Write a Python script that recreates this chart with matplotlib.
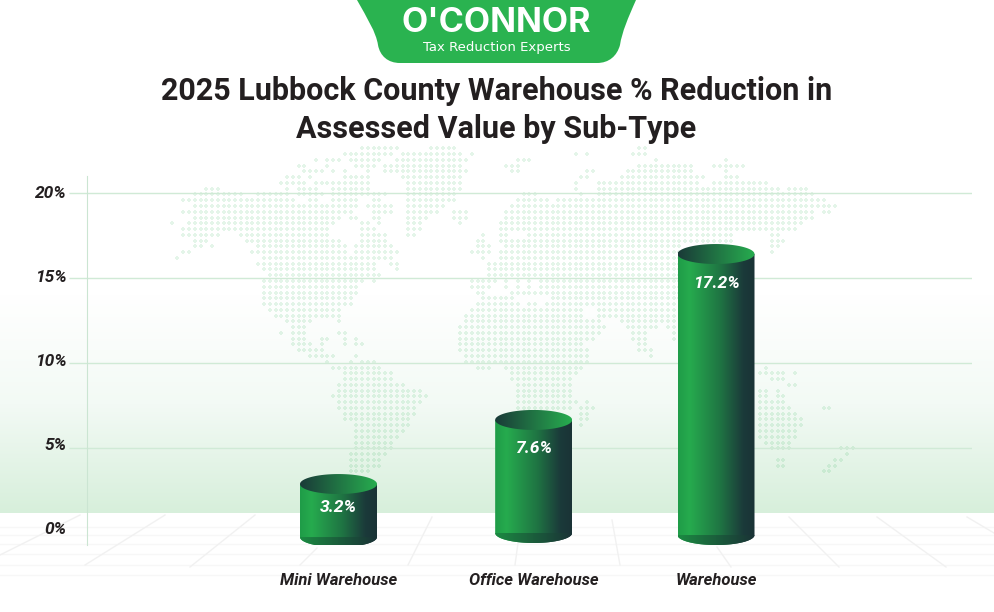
# -*- coding: utf-8 -*-
#%% Imports
import numpy as np
import matplotlib
matplotlib.use("Agg")
import matplotlib.pyplot as plt
from matplotlib.colors import LinearSegmentedColormap
from matplotlib.patches import PathPatch
from matplotlib.path import Path
from matplotlib.transforms import ScaledTranslation

#%% Data
categories = ["Mini Warehouse", "Office Warehouse", "Warehouse"]
reductions = [3.2, 7.6, 17.2]
# the cylinders in the picture are not to scale, these are read off its axis
drawn_tops = [2.88, 6.65, 16.41]
drawn_bases = [-0.24, 0.0, -0.12]
y_ticks = [0, 5, 10, 15, 20]
y_tick_labels = ["0%", "5%", "10%", "15%", "20%"]
title = "2025 Lubbock County Warehouse % Reduction in\nAssessed Value by Sub-Type"

# dotted world map behind the chart: row number -> dot runs in pixels
map_runs = {
    0: [(362, 397), (431, 454), (637, 643)],
    1: [(344, 391), (402, 460), (471, 471), (574, 574), (586, 586), (632, 643)],
    2: [(316, 316), (327, 338), (350, 379), (397, 466), (516, 528), (655, 655), (724, 724)],
    3: [(298, 304), (327, 327), (356, 373), (385, 460), (505, 517), (637, 690), (713, 742)],
    4: [(304, 321), (333, 333), (344, 344), (368, 368), (385, 466), (511, 517), (586, 592), (626, 690), (724, 724)],
    5: [(287, 298), (310, 310), (344, 368), (402, 460), (580, 586), (620, 702), (724, 736)],
    6: [(281, 304), (316, 338), (344, 368), (408, 460), (574, 574), (597, 695), (713, 765)],
    7: [(206, 217), (287, 287), (298, 316), (333, 368), (408, 460), (574, 574), (597, 777), (788, 806)],
    8: [(194, 242), (258, 287), (298, 321), (333, 385), (408, 454), (522, 533), (580, 580), (597, 812)],
    9: [(183, 188), (194, 293), (310, 316), (333, 356), (373, 379), (408, 454), (516, 545), (557, 823)],
    10: [(194, 356), (368, 391), (408, 442), (510, 833)],
    11: [(183, 350), (373, 391), (408, 437), (454, 466), (505, 812), (823, 828)],
    12: [(194, 338), (350, 356), (373, 379), (408, 425), (454, 466), (505, 812)],
    13: [(172, 172), (188, 333), (362, 368), (379, 379), (408, 419), (460, 460), (500, 800)],
    14: [(183, 327), (362, 373), (408, 419), (500, 517), (522, 793)],
    15: [(183, 217), (240, 327), (362, 385), (408, 414), (483, 483), (500, 505), (528, 730), (770, 777)],
    16: [(194, 206), (246, 338), (362, 385), (477, 483), (500, 730), (770, 783)],
    17: [(194, 200), (212, 212), (258, 344), (356, 391), (477, 488), (505, 677), (770, 777)],
    18: [(183, 188), (252, 344), (356, 397), (471, 488), (500, 677), (770, 770)],
    19: [(177, 177), (263, 391), (483, 483), (500, 677)],
    20: [(258, 373), (391, 397), (488, 677)],
    21: [(263, 373), (397, 397), (488, 677)],
    22: [(269, 379), (488, 677)],
    23: [(263, 362), (373, 373), (471, 494), (505, 505), (517, 517), (528, 528), (540, 677)],
    24: [(263, 356), (471, 488), (505, 505), (517, 517), (528, 528), (540, 677)],
    25: [(263, 356), (477, 483), (510, 677)],
    26: [(263, 350), (483, 512), (552, 677)],
    27: [(263, 350), (476, 517), (528, 534), (546, 673)],
    28: [(269, 338), (470, 580), (597, 673)],
    29: [(275, 340), (464, 580), (597, 673)],
    30: [(286, 310), (338, 338), (464, 597), (620, 673)],
    31: [(292, 305), (458, 603), (627, 655), (667, 673)],
    32: [(280, 280), (292, 305), (338, 344), (458, 597), (633, 643), (672, 672)],
    33: [(292, 305), (322, 327), (344, 344), (356, 356), (458, 592), (633, 643), (672, 672)],
    34: [(292, 310), (322, 322), (344, 344), (356, 362), (458, 580), (638, 643)],
    35: [(297, 322), (458, 585), (638, 650)],
    36: [(310, 333), (356, 356), (464, 585), (650, 650)],
    37: [(327, 327), (350, 350), (362, 373), (464, 585)],
    38: [(333, 380), (476, 487), (505, 580), (765, 765)],
    39: [(344, 390), (510, 574), (759, 782), (794, 794)],
    40: [(344, 390), (510, 568), (771, 782)],
    41: [(338, 402), (517, 568), (788, 794)],
    42: [(338, 420), (517, 568), (759, 765), (777, 777)],
    43: [(333, 426), (517, 568), (759, 765), (777, 782)],
    44: [(338, 420), (517, 574), (586, 586), (759, 782)],
    45: [(338, 414), (517, 568), (580, 592), (759, 788), (823, 828)],
    46: [(344, 414), (580, 586), (759, 794)],
    47: [(344, 408), (580, 586), (759, 800)],
    48: [(356, 408), (580, 580), (759, 800)],
    49: [(356, 402), (759, 794)],
    50: [(356, 397), (759, 794)],
    51: [(356, 390), (765, 788)],
    52: [(356, 390), (771, 788), (840, 852)],
    53: [(350, 385), (846, 846)],
    54: [(350, 379), (777, 782), (834, 840)],
    55: [(350, 379), (777, 782), (828, 834)],
    56: [(350, 367), (823, 828)],
}

# floor lines of the background
floor_rows = [527, 535, 544, 554, 565, 575]
floor_diagonals = [(0, 555, 80, 515), (85, 565, 165, 515), (190, 567, 255, 515), (300, 565, 317, 548),
                   (408, 565, 432, 517), (515, 565, 518, 543), (612, 520, 620, 565), (717, 547, 731, 567),
                   (789, 517, 839, 567), (877, 517, 946, 567), (967, 517, 994, 533)]

#%% Figure and background
plt.rcParams['font.family'] = ['Roboto', 'DejaVu Sans']
text_color = '#231f20'

fig = plt.figure(figsize=(9.94, 6.12), dpi=100, facecolor='white')
W, H = 994, 612

bg = fig.add_axes([0, 0, 1, 1])
bg.set_xlim(0, W)
bg.set_ylim(H, 0)
bg.axis('off')

# green fade above the floor
fade = LinearSegmentedColormap.from_list('fade', ['#ffffff', '#f3faf5', '#d7efdb'])
bg.imshow(np.linspace(0, 1, 256).reshape(-1, 1), cmap=fade, extent=(0, W, 513, 295), aspect='auto', zorder=0)
bg.set_xlim(0, W)
bg.set_ylim(H, 0)

for y in floor_rows:
    bg.plot([0, W], [y, y], color='#f7f7f7', lw=1, zorder=1)
for x0, y0, x1, y1 in floor_diagonals:
    bg.plot([x0, x1], [y0, y1], color='#f1f1f1', lw=1, zorder=1)

# map dots sit on a regular grid
dot_x, dot_y = [], []
for row, runs in map_runs.items():
    for x0, x1 in runs:
        cols = np.arange(np.round((x0 - 171.7) / 5.77), np.round((x1 - 171.7) / 5.77) + 1)
        dot_x.extend(171.7 + 5.77 * cols)
        dot_y.extend([148.3 + 5.77 * row] * len(cols))
bg.scatter(dot_x, dot_y, s=5, marker='P', color='#22b14c', alpha=0.12, linewidths=0, zorder=2)

# logo tab
logo_verts = [(357, 0), (367, 18), (376, 32), (378, 45), (380, 56), (388, 63), (400, 63), (597, 63),
              (609, 63), (617, 56), (620, 45), (622, 32), (628, 18), (636, 0), (357, 0)]
logo_codes = [Path.MOVETO] + [Path.CURVE4] * 6 + [Path.LINETO] + [Path.CURVE4] * 6 + [Path.CLOSEPOLY]
bg.add_patch(PathPatch(Path(logo_verts, logo_codes), facecolor='#2ab350', edgecolor='none', zorder=3))
bg.text(496.5, 23, "O'CONNOR", color='white', fontsize=24.5, fontweight='bold', ha='center', va='center',
        family=['Inter', 'DejaVu Sans'], zorder=4)
bg.text(496.5, 48, "Tax Reduction Experts", color='white', fontsize=9.5, ha='center', va='center',
        family=['DejaVu Sans'], zorder=4)

bg.text(496.5, 110, title, color=text_color, fontsize=22, fontweight='bold', ha='center', va='center',
        linespacing=1.33, zorder=4)

#%% Chart axes
ax = fig.add_axes([87 / W, 1 - 545 / H, (972 - 87) / W, (545 - 176) / H], facecolor='none')
x_unit = 188.75
bar_x = [0, 1.034, 2]
half_w = 38.5 / x_unit
cap_h = 10 / 17.0
ax.set_xlim((87 - 338.5) / x_unit, (972 - 338.5) / x_unit)
ax.set_ylim(-12 / 17.0, 21)

for side in ['top', 'right', 'bottom']:
    ax.spines[side].set_visible(False)
ax.spines['left'].set_color('#cbe5d2')

ax.set_yticks(y_ticks)
ax.set_yticklabels(y_tick_labels, fontsize=12.5, fontweight='bold', fontstyle='italic', color=text_color)
ax.tick_params(axis='y', length=13, width=1, color='#d0ead6', pad=1.5)
ax.yaxis.grid(True, color='#d0ead6', lw=1)
ax.set_axisbelow(True)
ax.get_ygridlines()[0].set_visible(False)
ax.yaxis.get_major_ticks()[0].tick1line.set_visible(False)

# the labels drift up from their gridlines towards the bottom of the axis
for tick_val, label in zip(y_ticks, ax.get_yticklabels()):
    shift = (1 + (20 - tick_val) * 0.2) / 100
    label.set_transform(label.get_transform() + ScaledTranslation(0, shift, fig.dpi_scale_trans))

ax.set_xticks(bar_x)
ax.set_xticklabels(categories, fontsize=12, fontweight='bold', fontstyle='italic', color=text_color)
ax.tick_params(axis='x', length=0, pad=20)

#%% Cylinders
body_cmap = LinearSegmentedColormap.from_list(
    'body', [(0, '#1f9c48'), (0.15, '#26ab4e'), (0.55, '#1f7443'), (0.85, '#1b3a3a'), (1, '#1a3336')])
top_cmap = LinearSegmentedColormap.from_list('cap', ['#1a3a38', '#27ad4f'])
base_cmap = LinearSegmentedColormap.from_list('base', ['#1c8a42', '#1a3236'])
ramp = np.linspace(0, 1, 256).reshape(1, -1)
theta = np.linspace(0, np.pi, 60)


def gradient_patch(verts, cmap, extent, zorder):
    patch = PathPatch(Path(verts, closed=False), facecolor='none', edgecolor='none', transform=ax.transData)
    ax.add_patch(patch)
    im = ax.imshow(ramp, cmap=cmap, extent=extent, aspect='auto', zorder=zorder)
    im.set_clip_path(patch)


label_offsets = [23, 29, 29]
for x, top, base, val, off in zip(bar_x, drawn_tops, drawn_bases, reductions, label_offsets):
    left, right = x - half_w, x + half_w
    arc_x = x - half_w * np.cos(theta)
    arc_low = base - cap_h * np.sin(theta)

    # body: straight sides closed by the lower arc
    verts = np.column_stack([np.r_[left, arc_x, right, left], np.r_[top, arc_low, top, top]])
    gradient_patch(verts, body_cmap, (left, right, base - cap_h, top), 5)

    # darker front rim at the foot
    verts = np.column_stack([np.r_[arc_x, left], np.r_[arc_low, base]])
    gradient_patch(verts, base_cmap, (left, right, base - cap_h, base), 6)

    # top ellipse
    verts = np.column_stack([np.r_[arc_x, arc_x[::-1]],
                             np.r_[top - cap_h * np.sin(theta), top + cap_h * np.sin(theta)[::-1]]])
    gradient_patch(verts, top_cmap, (left, right, top - cap_h, top + cap_h), 7)

    ax.annotate(f"{val}%", (x, top), xytext=(0, -off * 0.72), textcoords='offset points', color='white',
                fontsize=12.6, fontweight='bold', fontstyle='italic', ha='center', va='center', zorder=8)

ax.set_xlim((87 - 338.5) / x_unit, (972 - 338.5) / x_unit)
ax.set_ylim(-12 / 17.0, 21)

fig.savefig('out.png', dpi=100)
